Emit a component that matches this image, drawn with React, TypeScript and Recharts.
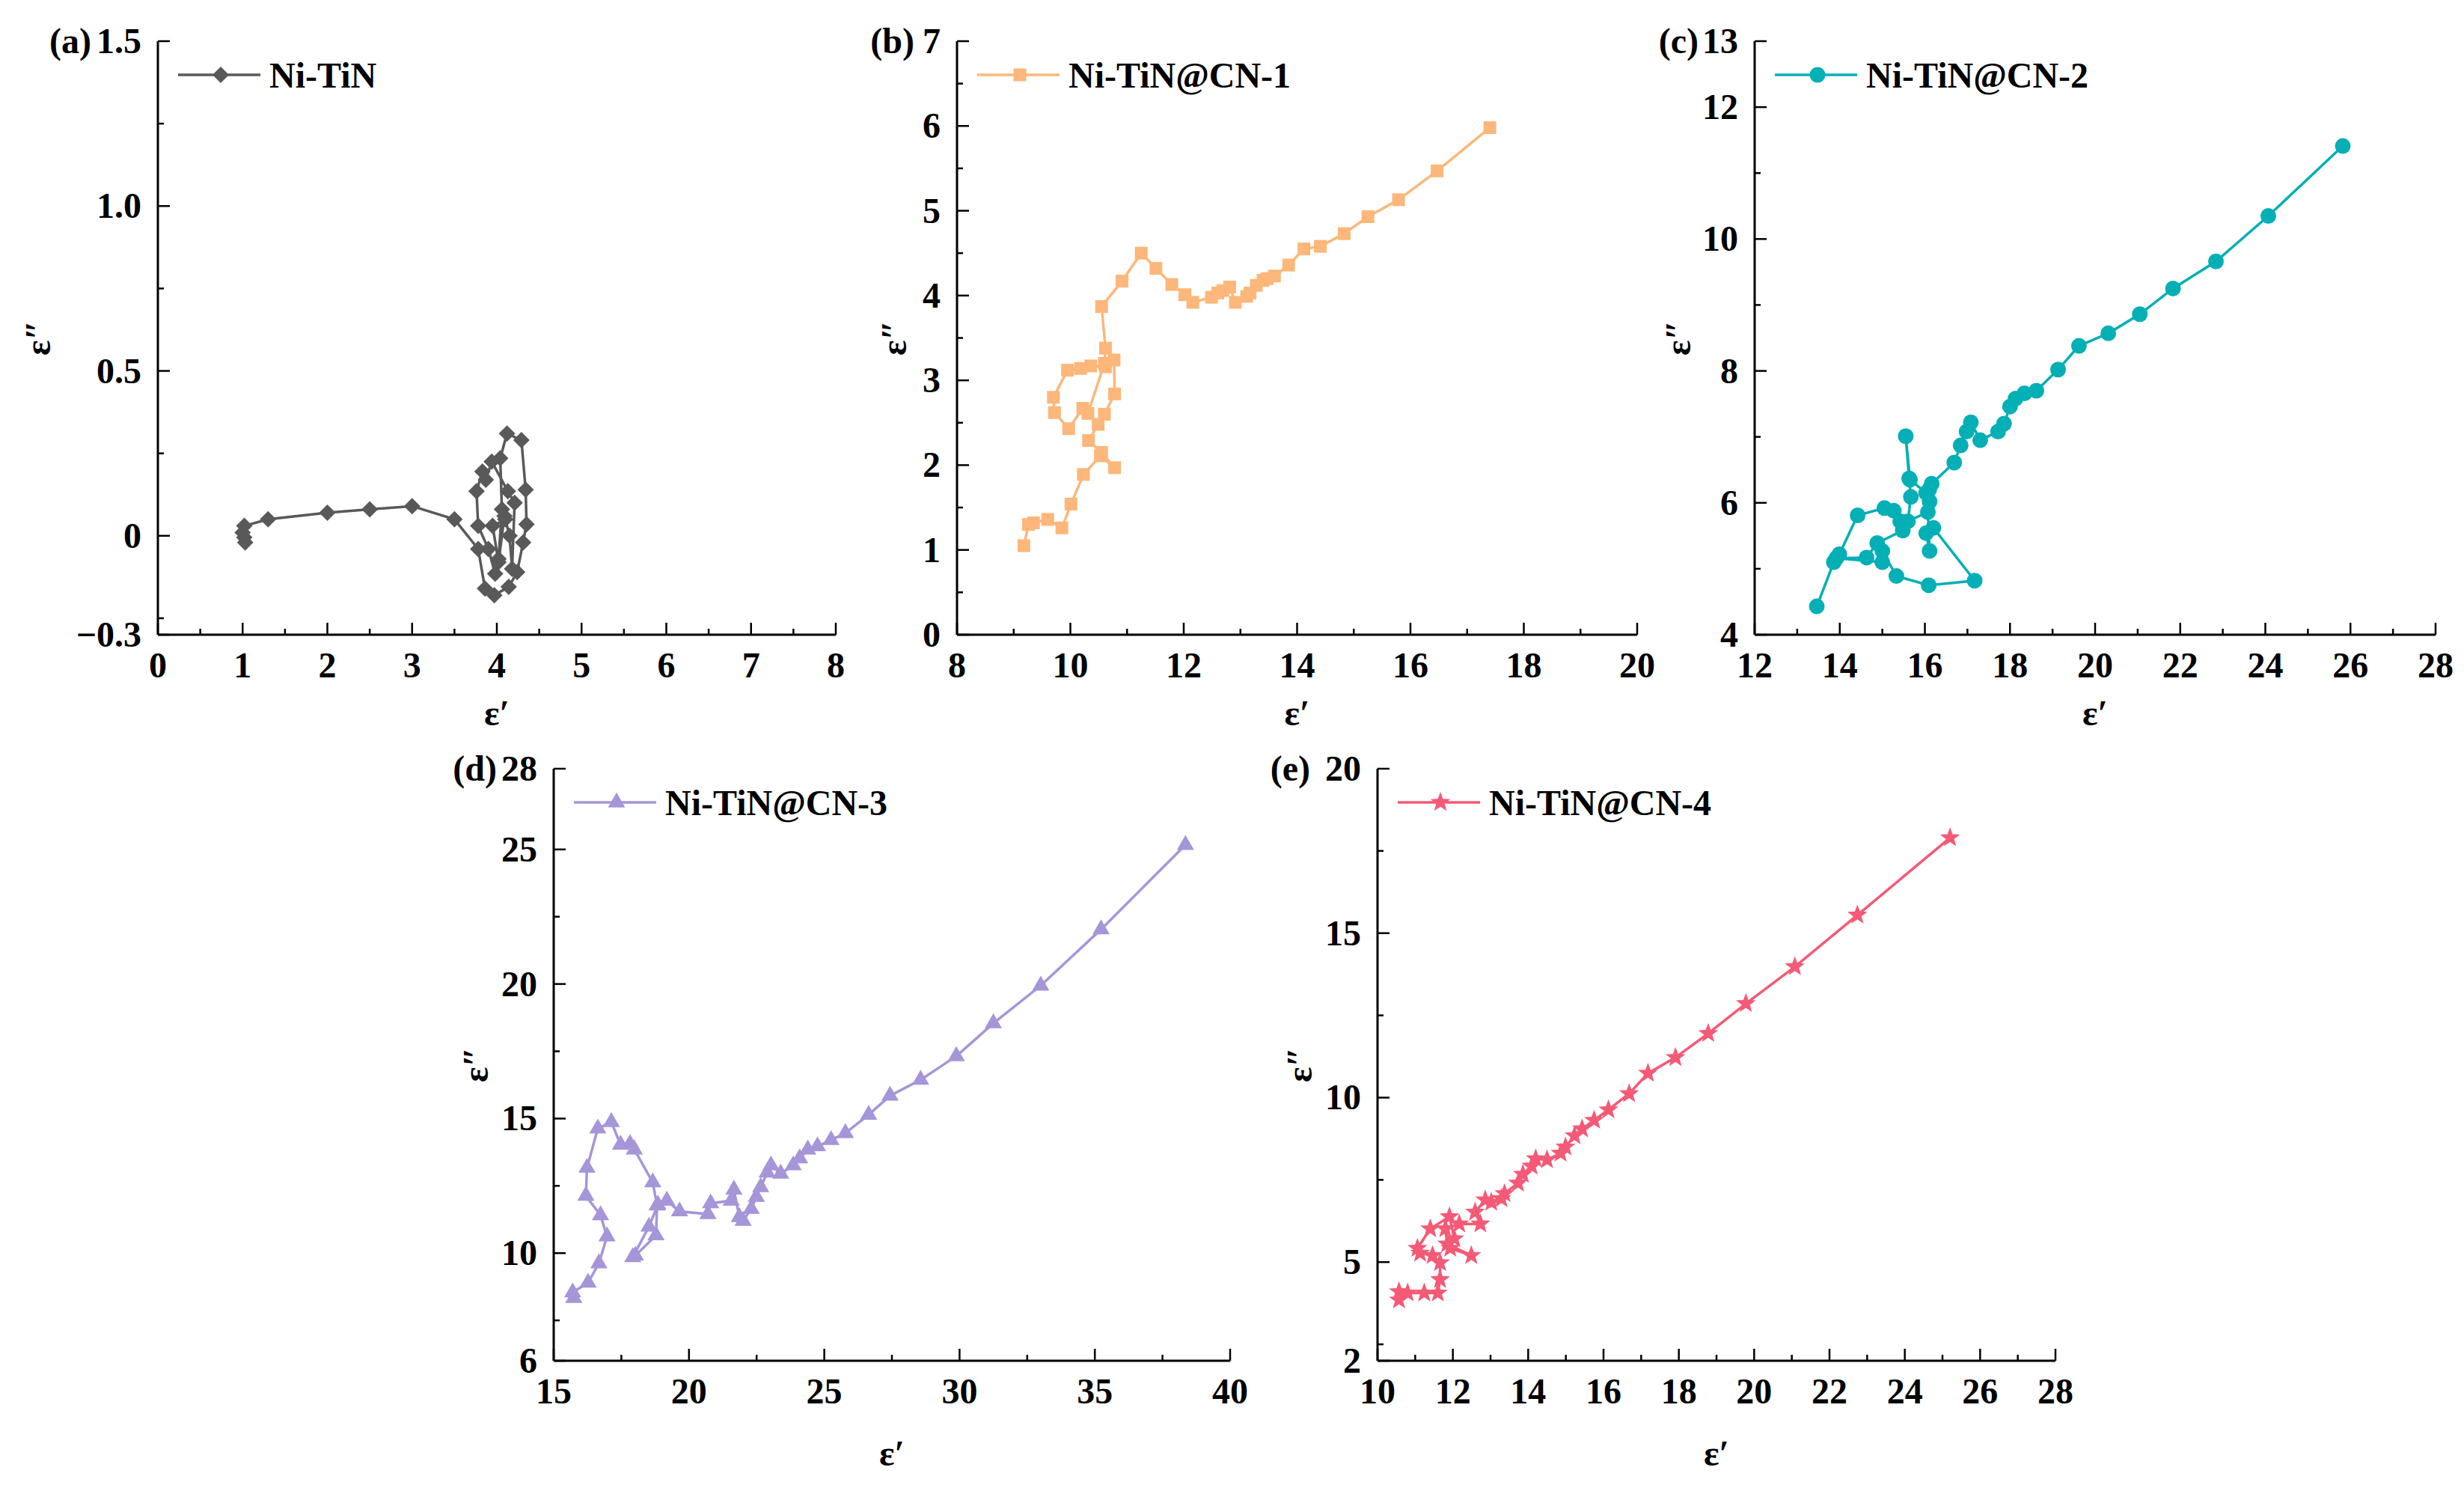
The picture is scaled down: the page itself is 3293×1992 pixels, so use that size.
import { LineChart, Line, XAxis, YAxis, Legend, Label } from 'recharts';

const FONT = '"Liberation Serif", "Times New Roman", serif';

// (a) Ni-TiN
const niTiNX = [1.03, 1.02, 1.0, 1.02, 1.3, 2.0, 2.5, 3.0, 3.5, 3.78, 3.86, 3.97, 4.14, 4.24, 4.31, 4.35, 4.34, 4.29, 4.12, 4.04, 4.06, 4.02, 3.98, 3.9, 3.78, 3.76, 3.83, 3.87, 3.94, 4.13, 4.21, 4.18, 4.15, 4.1, 3.95, 4.02, 4.09];
const niTiNY = [-0.02, -0.005, 0.01, 0.03, 0.05, 0.07, 0.08, 0.09, 0.05, -0.04, -0.16, -0.18, -0.155, -0.11, -0.02, 0.035, 0.14, 0.29, 0.31, 0.235, 0.08, -0.07, -0.115, -0.04, 0.03, 0.135, 0.195, 0.17, 0.225, 0.135, 0.1, -0.1, 0.0, 0.05, 0.03, -0.08, 0.06];

// (b) Ni-TiN@CN-1
const cn1X = [9.18, 9.26, 9.35, 9.6, 9.85, 10.01, 10.23, 10.53, 10.78, 10.55, 10.32, 10.49, 10.6, 10.78, 10.77, 10.62, 10.36, 10.18, 9.95, 9.7, 9.72, 9.97, 10.22, 10.31, 10.6, 10.62, 10.55, 10.91, 11.25, 11.51, 11.79, 12.02, 12.16, 12.49, 12.6, 12.69, 12.81, 12.91, 13.11, 13.17, 13.28, 13.4, 13.47, 13.6, 13.85, 14.12, 14.41, 14.83, 15.25, 15.79, 16.47, 17.4];
const cn1Y = [1.05, 1.3, 1.32, 1.36, 1.26, 1.54, 1.89, 2.11, 1.97, 2.15, 2.29, 2.48, 2.6, 2.84, 3.24, 3.16, 3.17, 3.14, 3.12, 2.8, 2.62, 2.43, 2.67, 2.61, 3.2, 3.38, 3.87, 4.17, 4.5, 4.32, 4.13, 4.01, 3.92, 3.98, 4.03, 4.06, 4.1, 3.92, 3.99, 4.03, 4.12, 4.18, 4.2, 4.23, 4.36, 4.55, 4.58, 4.73, 4.93, 5.13, 5.47, 5.98];

// (c) Ni-TiN@CN-2
const cn2X = [13.46, 13.86, 13.99, 14.42, 15.05, 15.27, 15.42, 15.48, 14.88, 14.63, 13.92, 15.0, 15.0, 15.33, 16.09, 17.17, 16.2, 16.03, 16.11, 16.07, 15.6, 15.67, 15.63, 15.55, 15.65, 16.03, 16.11, 16.1, 16.16, 16.69, 16.84, 16.98, 17.08, 17.3, 17.72, 17.86, 18.0, 18.13, 18.34, 18.62, 19.13, 19.62, 20.31, 21.05, 21.83, 22.84, 24.07, 25.82];
const cn2Y = [4.43, 5.1, 5.22, 5.81, 5.92, 5.88, 5.72, 5.58, 5.39, 5.17, 5.16, 5.1, 5.27, 4.89, 4.75, 4.82, 5.62, 5.54, 5.27, 5.86, 5.72, 6.09, 6.37, 7.01, 6.35, 6.15, 6.02, 6.2, 6.29, 6.61, 6.87, 7.08, 7.22, 6.95, 7.08, 7.2, 7.46, 7.58, 7.66, 7.7, 8.02, 8.38, 8.57, 8.86, 9.25, 9.66, 10.35, 11.41];

// (d) Ni-TiN@CN-3
const cn3X = [15.74, 15.7, 16.27, 16.67, 16.97, 16.73, 16.19, 16.23, 16.63, 17.13, 17.47, 17.82, 17.98, 18.66, 18.82, 18.78, 18.02, 17.92, 18.52, 18.85, 19.18, 19.65, 20.7, 20.8, 21.56, 21.66, 21.86, 22.0, 22.3, 22.49, 22.65, 22.89, 23.03, 23.39, 23.85, 24.09, 24.39, 24.75, 25.25, 25.78, 26.64, 27.43, 28.56, 29.88, 31.25, 33.0, 35.23, 38.35];
const cn3Y = [8.33, 8.54, 8.9, 9.62, 10.62, 11.41, 12.13, 13.17, 14.63, 14.87, 14.03, 14.06, 13.85, 12.63, 11.77, 10.66, 9.91, 9.85, 10.98, 11.8, 11.95, 11.55, 11.45, 11.85, 11.95, 12.36, 11.34, 11.2, 11.64, 12.09, 12.45, 12.99, 13.26, 12.95, 13.26, 13.52, 13.85, 13.97, 14.2, 14.46, 15.14, 15.85, 16.44, 17.32, 18.54, 19.94, 22.03, 25.17];

// (e) Ni-TiN@CN-4
const cn4X = [10.57, 10.57, 10.8, 11.24, 11.6, 11.66, 11.66, 11.46, 11.13, 11.06, 11.4, 11.91, 12.04, 11.93, 12.49, 11.85, 11.8, 12.17, 12.73, 12.59, 12.86, 13.02, 13.29, 13.37, 13.73, 13.86, 14.09, 14.2, 14.5, 14.86, 14.99, 15.23, 15.43, 15.75, 16.13, 16.68, 17.18, 17.91, 18.78, 19.78, 21.08, 22.74, 25.2];
const cn4Y = [3.85, 4.1, 4.06, 4.06, 4.06, 4.47, 4.98, 5.2, 5.27, 5.42, 6.01, 6.38, 5.71, 5.42, 5.2, 5.55, 6.01, 6.16, 6.16, 6.52, 6.89, 6.82, 6.93, 7.08, 7.4, 7.67, 7.92, 8.14, 8.11, 8.31, 8.5, 8.84, 9.05, 9.31, 9.63, 10.12, 10.74, 11.22, 11.95, 12.86, 13.98, 15.55, 17.9];

// axis ticks (all tick positions, then labelled ones)
const xTicksA = [0, 0.5, 1, 1.5, 2, 2.5, 3, 3.5, 4, 4.5, 5, 5.5, 6, 6.5, 7, 7.5, 8];
const xMajorA = [0, 1, 2, 3, 4, 5, 6, 7, 8];
const yTicksA = [-0.3, -0.25, 0, 0.25, 0.5, 0.75, 1, 1.25, 1.5];
const yMajorA = [-0.3, 0, 0.5, 1, 1.5];
const yLabelsA = ['\u22120.3', '0', '0.5', '1.0', '1.5'];

const xTicksB = [8, 9, 10, 11, 12, 13, 14, 15, 16, 17, 18, 19, 20];
const xMajorB = [8, 10, 12, 14, 16, 18, 20];
const yTicksB = [0, 0.5, 1, 1.5, 2, 2.5, 3, 3.5, 4, 4.5, 5, 5.5, 6, 6.5, 7];
const yMajorB = [0, 1, 2, 3, 4, 5, 6, 7];

const xTicksC = [12, 13, 14, 15, 16, 17, 18, 19, 20, 21, 22, 23, 24, 25, 26, 27, 28];
const xMajorC = [12, 14, 16, 18, 20, 22, 24, 26, 28];
const yTicksC = [4, 5, 6, 7, 8, 9, 10, 11, 12, 13];
const yMajorC = [4, 6, 8, 10, 12, 13];

const xTicksD = [15, 17.5, 20, 22.5, 25, 27.5, 30, 32.5, 35, 37.5, 40];
const xMajorD = [15, 20, 25, 30, 35, 40];
const yTicksD = [6, 7.5, 10, 12.5, 15, 17.5, 20, 22.5, 25, 28];
const yMajorD = [6, 10, 15, 20, 25, 28];

const xTicksE = [10, 11, 12, 13, 14, 15, 16, 17, 18, 19, 20, 21, 22, 23, 24, 25, 26, 27, 28];
const xMajorE = [10, 12, 14, 16, 18, 20, 22, 24, 26, 28];
const yTicksE = [2, 2.5, 5, 7.5, 10, 12.5, 15, 17.5, 20];
const yMajorE = [2, 5, 10, 15, 20];

const ML = 200;
const MT = 60;
const MR = 40;
const MB = 150;
const AXIS = { stroke: '#000', strokeWidth: 3 };
const TXT = { fontFamily: FONT, fontWeight: 'bold' as const, fontSize: 48, fill: '#000' };

const panels = [
  { tag: '(a)', name: 'Ni-TiN', xs: niTiNX, ys: niTiNY, color: '#595959', shape: 'diamond', left: 211, top: 55, w: 906, h: 793,
    xDomain: [0, 8], xTicks: xTicksA, xMajor: xMajorA, yDomain: [-0.3, 1.5], yTicks: yTicksA, yMajor: yMajorA, yLabels: yLabelsA,
    tagDx: -89, yTitleDx: -160, xTitleDy: 105 },
  { tag: '(b)', name: 'Ni-TiN@CN-1', xs: cn1X, ys: cn1Y, color: '#fdb77a', shape: 'square', left: 1279, top: 55, w: 909, h: 793,
    xDomain: [8, 20], xTicks: xTicksB, xMajor: xMajorB, yDomain: [0, 7], yTicks: yTicksB, yMajor: yMajorB,
    tagDx: -57, yTitleDx: -84, xTitleDy: 105 },
  { tag: '(c)', name: 'Ni-TiN@CN-2', xs: cn2X, ys: cn2Y, color: '#05afb6', shape: 'circle', left: 2345, top: 55, w: 910, h: 793,
    xDomain: [12, 28], xTicks: xTicksC, xMajor: xMajorC, yDomain: [4, 13], yTicks: yTicksC, yMajor: yMajorC,
    tagDx: -75, yTitleDx: -102, xTitleDy: 105 },
  { tag: '(d)', name: 'Ni-TiN@CN-3', xs: cn3X, ys: cn3Y, color: '#a695d8', shape: 'triangle', left: 740, top: 1027, w: 904, h: 791,
    xDomain: [15, 40], xTicks: xTicksD, xMajor: xMajorD, yDomain: [6, 28], yTicks: yTicksD, yMajor: yMajorD,
    tagDx: -76, yTitleDx: -104, xTitleDy: 124 },
  { tag: '(e)', name: 'Ni-TiN@CN-4', xs: cn4X, ys: cn4Y, color: '#f45a76', shape: 'star', left: 1841, top: 1027, w: 906, h: 791,
    xDomain: [10, 28], xTicks: xTicksE, xMajor: xMajorE, yDomain: [2, 20], yTicks: yTicksE, yMajor: yMajorE,
    tagDx: -90, yTitleDx: -104, xTitleDy: 124 },
];

function Marker({ shape, cx, cy, color }: { shape: string; cx: number; cy: number; color: string }) {
  if (shape === 'diamond') {
    const r = 11;
    return <polygon points={`${cx},${cy - r} ${cx + r},${cy} ${cx},${cy + r} ${cx - r},${cy}`} fill={color} />;
  }
  if (shape === 'square') {
    return <rect x={cx - 8.5} y={cy - 8.5} width={17} height={17} fill={color} />;
  }
  if (shape === 'circle') {
    return <circle cx={cx} cy={cy} r={10.5} fill={color} />;
  }
  if (shape === 'triangle') {
    const s = 23;
    const h = s * 0.866;
    return <polygon points={`${cx},${cy - (2 * h) / 3} ${cx + s / 2},${cy + h / 3} ${cx - s / 2},${cy + h / 3}`} fill={color} />;
  }
  // star
  const pts: string[] = [];
  for (let i = 0; i < 10; i++) {
    const r = i % 2 === 0 ? 14 : 5.8;
    const a = -Math.PI / 2 + (i * Math.PI) / 5;
    pts.push(`${cx + r * Math.cos(a)},${cy + r * Math.sin(a)}`);
  }
  return <polygon points={pts.join(' ')} fill={color} />;
}

const near = (a: number, b: number) => Math.abs(a - b) < 1e-6;

function Panel({ p }: { p: any }) {
  const data = p.xs.map((x: number, i: number) => ({ x, y: p.ys[i] }));
  const W = p.w + ML + MR;
  const H = p.h + MT + MB;

  const xTick = (props: any) => {
    const { x, y, payload } = props;
    const i = p.xMajor.findIndex((m: number) => near(m, payload.value));
    return (
      <g>
        <line x1={x} x2={x} y1={y} y2={y - (i >= 0 ? 16 : 8)} stroke="#000" strokeWidth={2.5} />
        {i >= 0 && (
          <text x={x} y={y + 57} textAnchor="middle" {...TXT}>
            {String(payload.value)}
          </text>
        )}
      </g>
    );
  };

  const yTick = (props: any) => {
    const { x, y, payload } = props;
    const i = p.yMajor.findIndex((m: number) => near(m, payload.value));
    return (
      <g>
        <line x1={x} x2={x + (i >= 0 ? 16 : 8)} y1={y} y2={y} stroke="#000" strokeWidth={2.5} />
        {i >= 0 && (
          <text x={x - 22} y={y + 16} textAnchor="end" {...TXT}>
            {p.yLabels ? p.yLabels[i] : String(payload.value)}
          </text>
        )}
      </g>
    );
  };

  const xTitle = (props: any) => {
    const vb = props.viewBox;
    return (
      <text x={vb.x + vb.width / 2} y={vb.y + p.xTitleDy + 16} textAnchor="middle" {...TXT}>
        {'\u03b5\u2032'}
      </text>
    );
  };

  const yTitle = (props: any) => {
    const vb = props.viewBox;
    const px = vb.x + vb.width;
    const cy = vb.y + vb.height / 2;
    const tx = px + p.yTitleDx;
    return (
      <g>
        <text x={tx} y={cy + 16} textAnchor="middle" transform={`rotate(-90 ${tx} ${cy})`} {...TXT}>
          {'\u03b5\u2033'}
        </text>
        <text x={px + p.tagDx} y={vb.y + 16} textAnchor="end" {...TXT}>
          {p.tag}
        </text>
      </g>
    );
  };

  const legendBox = () => (
    <div style={{ display: 'flex', alignItems: 'center', height: 50, fontFamily: FONT, fontWeight: 'bold', fontSize: 48, whiteSpace: 'nowrap', color: '#000' }}>
      <svg width={122} height={50}>
        <line x1={0} x2={110} y1={25} y2={25} stroke={p.color} strokeWidth={3.5} />
        <Marker shape={p.shape} cx={57} cy={25} color={p.color} />
      </svg>
      <span>{p.name}</span>
    </div>
  );

  return (
    <div style={{ position: 'absolute', left: p.left - ML, top: p.top - MT }}>
      <LineChart width={W} height={H} data={data} margin={{ top: MT, right: MR, left: 0, bottom: 0 }}>
        <XAxis dataKey="x" type="number" domain={p.xDomain} ticks={p.xTicks} interval={0} allowDataOverflow
          tickSize={0} tickMargin={0} height={MB} axisLine={AXIS} tickLine={false} tick={xTick}>
          <Label content={xTitle} />
        </XAxis>
        <XAxis xAxisId="top" orientation="top" dataKey="x" type="number" domain={p.xDomain} allowDataOverflow
          height={0} tick={false} tickLine={false} axisLine={AXIS} />
        <YAxis type="number" domain={p.yDomain} ticks={p.yTicks} interval={0} allowDataOverflow
          tickSize={0} tickMargin={0} width={ML} axisLine={AXIS} tickLine={false} tick={yTick}>
          <Label content={yTitle} />
        </YAxis>
        <YAxis yAxisId="right" orientation="right" type="number" domain={p.yDomain} allowDataOverflow
          width={0} tick={false} tickLine={false} axisLine={AXIS} />
        <Legend layout="horizontal" verticalAlign="middle" align="center"
          wrapperStyle={{ left: ML + 27, top: MT + 20, width: 'auto', height: 50 }} content={legendBox} />
        <Line type="linear" dataKey="y" name={p.name} stroke={p.color} strokeWidth={3.5}
          dot={(d: any) => <Marker key={d.index} shape={p.shape} cx={d.cx} cy={d.cy} color={p.color} />}
          activeDot={false} isAnimationActive={false} />
      </LineChart>
    </div>
  );
}

export default function App() {
  return (
    <div style={{ position: 'absolute', left: 0, top: 0, width: 3293, height: 1992, background: '#fff', overflow: 'hidden', fontFamily: FONT }}>
      {panels.map((p) => (
        <Panel key={p.tag} p={p} />
      ))}
    </div>
  );
}
